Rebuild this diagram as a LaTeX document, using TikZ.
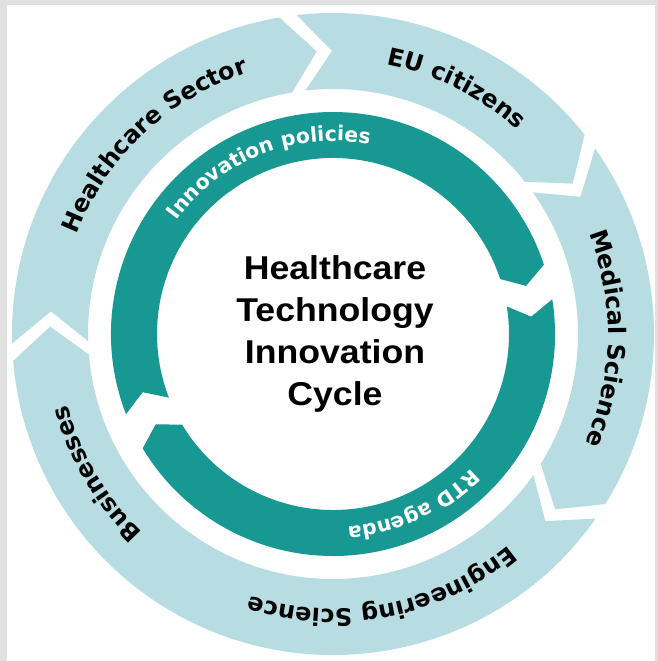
\documentclass[tikz,border=0pt]{standalone}
\usepackage{fontspec}
\usetikzlibrary{decorations.text}
\setmainfont{Liberation Sans}
\newfontfamily\labelfont{DejaVu Sans}
\newfontfamily\titlefont[FakeStretch=1.08]{Liberation Sans}
\definecolor{ringblue}{RGB}{183,221,226}
\definecolor{cycleteal}{RGB}{24,152,147}
\definecolor{framegray}{RGB}{224,224,224}

% band running clockwise: notch at #1, tip at #2, radii #3/#4, chevron depth #5
\newcommand{\cycleband}[6]{%
  \fill[#6] ({#1+#5}:#4) arc[start angle={#1+#5}, end angle={#2+#5}, radius=#4]
    -- (#2:{(#3+#4)/2}) -- ({#2+#5}:#3)
    arc[start angle={#2+#5}, end angle={#1+#5}, radius=#3]
    -- (#1:{(#3+#4)/2}) -- cycle;}
\newcommand{\ringfmt}{\labelfont\bfseries\fontsize{24}{28}\selectfont}
\newcommand{\tealfmt}{\labelfont\bfseries\fontsize{20.5}{24}\selectfont}
\tikzset{
  arclabel/.style={decorate, decoration={text along path, text align=center, text={#1}}},
  teallabel/.style={decorate, decoration={text along path, text align=center, text color=white, text={#1}}}
}

\begin{document}
\begin{tikzpicture}[x=1pt, y=1pt]
  \useasboundingbox (-333,-327) rectangle (325,334);
  \fill[framegray] (-333,-327) rectangle (325,334);
  \fill[white] (-326,-327) rectangle (322,329);
  % outer ring
  \foreach \a/\b in {175.4/93.3, 90.2/32.1, 29/-38.3, -41.4/-181.5}
    \cycleband{\a}{\b}{245}{321}{6.3}{ringblue};
  % inner arrows
  \cycleband{197}{14}{176}{222}{4.2}{cycleteal}
  \cycleband{5}{-153}{176}{222}{4}{cycleteal}
  % ring labels
  \path[arclabel={|\ringfmt|Healthcare Sector}] (203.3:275) arc[start angle=203.3, end angle=63.3, radius=275];
  \path[arclabel={|\ringfmt|EU citizens}] (133.3:275) arc[start angle=133.3, end angle=-6.7, radius=275];
  \path[arclabel={|\ringfmt|Medical Science}] (69:275) arc[start angle=69, end angle=-71, radius=275];
  \path[arclabel={|\ringfmt|Engineering Science}] (-9:275) arc[start angle=-9, end angle=-149, radius=275];
  \path[arclabel={|\ringfmt|Businesses}] (280.6:275) arc[start angle=280.6, end angle=140.6, radius=275];
  \path[teallabel={|\tealfmt|Innovation policies}] (171.5:193) arc[start angle=171.5, end angle=51.5, radius=193];
  \path[teallabel={|\tealfmt|RTD agenda}] (-5:193) arc[start angle=-5, end angle=-125, radius=193];
  % centre
  \node[font=\titlefont\bfseries\fontsize{33}{42}\selectfont, align=center] (title) at (2,0)
    {Healthcare\\Technology\\Innovation\\Cycle};
\end{tikzpicture}
\end{document}
